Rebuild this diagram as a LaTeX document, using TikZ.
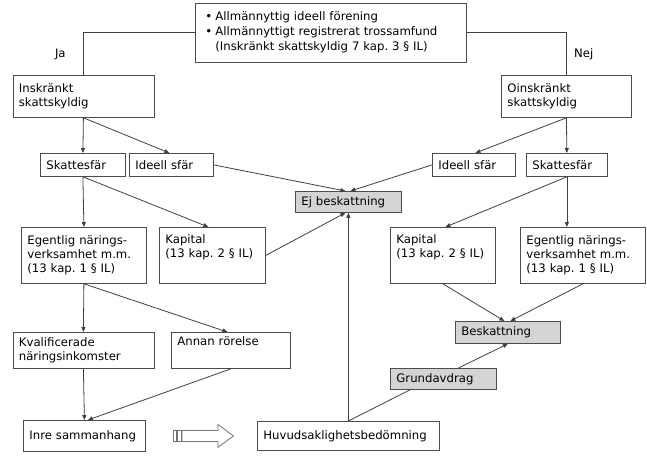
\documentclass[tikz,border=0pt]{standalone}
\usepackage{fontspec}
\setmainfont{DejaVu Sans}
\usetikzlibrary{calc}
\usetikzlibrary{arrows.meta}

\begin{document}
\frenchspacing
\begin{tikzpicture}[x=1pt,y=-1pt,>={Stealth[length=5pt,width=4pt,inset=0pt]},
  every node/.style={font=\fontsize{11.7}{14}\selectfont},
  box/.style={draw=black!70,line width=0.8pt,anchor=north west,align=left,inner xsep=6pt,inner ysep=2pt},
  greybox/.style={box,fill=black!17},
  conn/.style={draw=black!75,line width=0.8pt}]

  \useasboundingbox (0,0) rectangle (647,460);

  % top question
  \node(top) [box,text width=259pt,minimum height=59pt,font=\fontsize{11.7}{15}\selectfont] at (195,3)
    {\begin{tabular}{@{}l@{}l@{}}
       \makebox[14pt][l]{~\textbullet} & Allmännyttig ideell förening\\
       \makebox[14pt][l]{~\textbullet} & Allmännyttigt registrerat trossamfund\\
       & (Inskränkt skattskyldig 7 kap. 3 § IL)
     \end{tabular}};

  \node(insk) [box,text width=129pt,minimum height=42pt] at (12.5,75) {Inskränkt\\skattskyldig};
  \node(oinsk) [box,text width=118pt,minimum height=42pt] at (501,75) {Oinskränkt\\skattskyldig};

  \node(skl) [box,text width=73pt,minimum height=23pt] at (40,153) {Skattesfär};
  \node(idl) [box,text width=72pt,minimum height=23pt] at (129,153) {Ideell sfär};
  \node(idr) [box,text width=71pt,minimum height=23pt] at (432,153) {Ideell sfär};
  \node(skr) [box,text width=69pt,minimum height=23pt] at (526,153) {Skattesfär};

  \node(ej) [greybox,text width=94pt,minimum height=21pt] at (295,191) {Ej beskattning};

  \node(egl) [box,text width=113pt,minimum height=56pt] at (21,227)
    {Egentlig närings-\\verksamhet m.m.\\(13 kap. 1 § IL)};
  \node(kapl) [box,text width=94pt,minimum height=56pt] at (159,227)
    {Kapital\\(13 kap. 2 § IL)\\\strut};
  \node(kapr) [box,text width=93pt,minimum height=56pt] at (390,227)
    {Kapital\\(13 kap. 2 § IL)\\\strut};
  \node(egr) [box,text width=113pt,minimum height=56pt] at (520,227)
    {Egentlig närings-\\verksamhet m.m.\\(13 kap. 1 § IL)};

  \node(besk) [greybox,text width=93pt,minimum height=22pt] at (455,321) {Beskattning};
  \node(grund) [greybox,text width=94pt,minimum height=21pt] at (390,368) {Grundavdrag};

  \node(kval) [box,text width=129pt,minimum height=36pt] at (12.5,332) {Kvalificerade\\näringsinkomster};
  \node(annan) [box,text width=107pt,minimum height=36pt] at (171,332) {Annan rörelse\\\strut};

  \node(inre) [box,text width=110pt,minimum height=31pt] at (23,420) {Inre sammanhang};
  \node(huv) [box,text width=170pt,minimum height=29pt] at (257,421) {Huvudsaklighetsbedömning};

  % connectors
  \draw[conn] (top.west) -| node[pos=0.75,left=14pt] (ja) {Ja} (insk.north);
  \draw[conn] (top.east) -| node[pos=0.75,right=4pt] (nej) {Nej} (oinsk.north);

  \draw[conn,->] (insk.south) -- (skl.north);
  \draw[conn,->] (insk.south) -- ([xshift=-2pt]idl.north);
  \draw[conn,->] (oinsk.south) -- ([xshift=1.5pt]idr.north);
  \draw[conn,->] (oinsk.south) -- (skr.north);

  \draw[conn,->] (idl.east) -- ([xshift=-3pt]ej.north);
  \draw[conn,->] (idr.west) -- ([xshift=2pt]ej.north);

  \draw[conn,->] (skl.south) -- (egl.north);
  \draw[conn,->] (skl.south) -- ([xshift=-4pt]kapl.north);
  \draw[conn,->] (skr.south) -- ([xshift=2.5pt]kapr.north);
  \draw[conn,->] (skr.south) -- (skr.south |- egr.north);

  \draw[conn,->] (kapl.east) -- ([xshift=-3pt]ej.south);
  \draw[conn,->] (kapr.south) -- ([xshift=-3.5pt]besk.north);
  \draw[conn,->] (egr.south) -- ([xshift=2.5pt]besk.north);

  \draw[conn,->] (egl.south) -- (kval.north);
  \draw[conn,->] (egl.south) -- ([xshift=-3.5pt]annan.north);
  \draw[conn,->] (kval.south) -- (inre.north);
  \draw[conn,->] (annan.south) -- ([xshift=3.5pt]inre.north);

  \draw[conn,->] (huv.north) -- (ej.south);
  \draw[conn] (huv.north) -- ([xshift=20pt]grund.south west);
  \draw[conn,->] ([xshift=15pt]grund.north) -- (besk.south);

  % block arrow
  \coordinate (mid) at ($(inre.east)!0.5!(huv.west)$);
  \begin{scope}[shift={(mid)}]
    \draw[draw=black!55,line width=0.8pt,fill=white] (-19.5,-5.5) -- (16.5,-5.5) -- (16.5,-11.5) -- (32,0)
      -- (16.5,11.5) -- (16.5,5.5) -- (-19.5,5.5) -- cycle;
    \draw[draw=black!55,line width=0.8pt] (-28.5,-5.5) rectangle (-25,5.5);
    \draw[draw=black!55,line width=0.8pt] (-24,-5.5) rectangle (-20.5,5.5);
  \end{scope}
\end{tikzpicture}
\end{document}
